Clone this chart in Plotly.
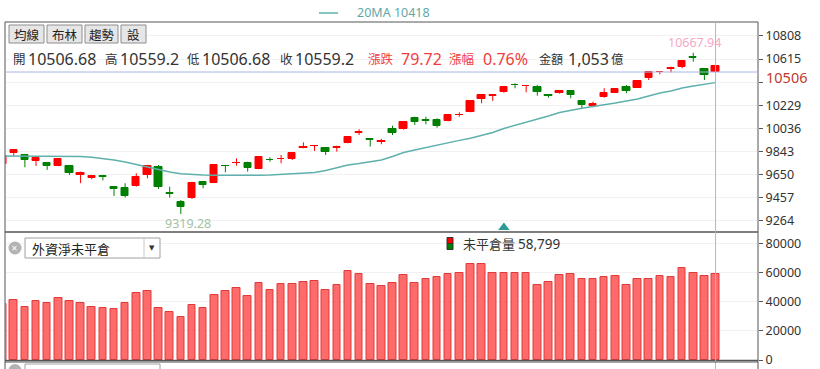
import plotly.graph_objects as go

# ---------------- data ----------------
opens = [9735, 9827, 9813, 9763, 9749, 9721, 9724, 9646, 9623, 9637,
         9548, 9540, 9554, 9646, 9716, 9493, 9423, 9451, 9585, 9582,
         9725, 9744, 9744, 9696, 9774, 9777, 9777, 9872, 9886, 9869,
         9872, 9916, 9997, 9947, 9922, 10030, 10028, 10120, 10103, 10104,
         10100, 10145, 10175, 10281, 10308, 10337, 10400, 10387, 10379, 10315,
         10329, 10348, 10265, 10223, 10296, 10334, 10384, 10376, 10454, 10504,
         10535, 10551, 10632, 10530, 10506.68]
highs = [9812, 9863, 9822, 9799, 9755, 9783, 9730, 9674, 9646, 9646,
         9554, 9577, 9660, 9730, 9730, 9548, 9437, 9588, 9590, 9738,
         9728, 9785, 9757, 9805, 9794, 9813, 9838, 9919, 9897, 9872,
         9891, 9972, 10028, 9949, 9947, 10058, 10097, 10133, 10133, 10120,
         10156, 10170, 10273, 10317, 10320, 10390, 10412, 10398, 10398, 10317,
         10351, 10351, 10273, 10259, 10371, 10368, 10398, 10434, 10507, 10515,
         10551, 10601, 10667.94, 10532, 10559.2]
lows = [9728, 9807, 9710, 9721, 9688, 9719, 9646, 9577, 9610, 9601,
        9470, 9457, 9548, 9618, 9529, 9457, 9319.28, 9445, 9535, 9579,
        9668, 9724, 9674, 9694, 9757, 9744, 9771, 9869, 9847, 9813,
        9841, 9911, 9980, 9883, 9903, 9980, 10025, 10064, 10070, 10041,
        10095, 10133, 10170, 10245, 10265, 10334, 10371, 10337, 10309, 10292,
        10326, 10287, 10198, 10214, 10292, 10331, 10329, 10373, 10440, 10488,
        10504, 10538, 10593, 10440, 10506.68]
closes = [9807, 9855, 9771, 9786, 9721, 9777, 9665, 9665, 9635, 9630,
          9532, 9470, 9632, 9721, 9548, 9487, 9381, 9582, 9562, 9730,
          9717, 9749, 9702, 9799, 9769, 9783, 9832, 9880, 9891, 9841,
          9880, 9966, 10002, 9941, 9928, 9994, 10092, 10092, 10098, 10058,
          10148, 10150, 10264, 10315, 10312, 10384, 10395, 10392, 10342, 10304,
          10348, 10315, 10231, 10240, 10334, 10365, 10351, 10432, 10504, 10509,
          10538, 10599, 10626, 10482, 10559.2]
ma20 = [9805, 9805, 9805, 9805, 9804, 9804, 9803, 9800, 9794, 9784,
        9771, 9755, 9734, 9713, 9692, 9671, 9657, 9650, 9646, 9643,
        9642, 9642, 9642, 9643, 9646, 9650, 9655, 9658, 9666, 9683,
        9704, 9730, 9742, 9755, 9771, 9800, 9834, 9855, 9876, 9897,
        9914, 9935, 9953, 9976, 10001, 10035, 10060, 10085, 10110, 10139,
        10168, 10189, 10204, 10219, 10231, 10248, 10265, 10281, 10306, 10331,
        10348, 10373, 10390, 10403, 10418]
open_interest = [38400, 41100, 36100, 40400, 39000, 42300, 40400, 39000, 36100, 35400,
                 35000, 39000, 45900, 47000, 35400, 32900, 29300, 37500, 35600, 44300,
                 47000, 49100, 43600, 52600, 47800, 52100, 52100, 53200, 53900, 47800,
                 51200, 60800, 58700, 52100, 50500, 52600, 58000, 52800, 55800, 56700,
                 58700, 59400, 65600, 65600, 59900, 59400, 59900, 59900, 51200, 53200,
                 58000, 58700, 55800, 55300, 56700, 57400, 51200, 55800, 55800, 57400,
                 56700, 63300, 59400, 57400, 58799]
price_ticks = [9264, 9457, 9650, 9843, 10036, 10229, 10422, 10615, 10808]
price_ticktext = ["9264", "9457", "9650", "9843", "10036", "10229", "", "10615", "10808"]
oi_ticks = [0, 20000, 40000, 60000, 80000]
oi_ticktext = ["0", "20000", "40000", "60000", "80000"]
event_idx = [45]
crosshair_price = 10506.68
buttons = ["均線", "布林", "趨勢", "設"]

W, H = 820, 369
def PX(x): return x / W
def PY(y): return 1 - y / H

n = len(opens)
idx = list(range(n))
RED, GREEN = "#ff0000", "#008000"
FONT = "Noto Sans, Noto Sans CJK TC, sans-serif"
CJK = "Noto Sans CJK TC, Noto Sans, sans-serif"

fig = go.Figure()

# wicks + bodies
for color, cond in ((RED, lambda i: closes[i] >= opens[i]), (GREEN, lambda i: closes[i] < opens[i])):
    xs, ys = [], []
    for i in idx:
        if cond(i):
            xs += [i, i, None]
            ys += [lows[i], highs[i], None]
    fig.add_trace(go.Scatter(x=xs, y=ys, mode="lines", line=dict(color=color, width=1),
                             hoverinfo="skip", showlegend=False, xaxis="x", yaxis="y"))
    bx = [i for i in idx if cond(i)]
    base = [min(opens[i], closes[i]) for i in bx]
    hgt = [max(abs(closes[i] - opens[i]), 6) for i in bx]
    fig.add_trace(go.Bar(x=bx, y=hgt, base=base, width=0.66,
                         marker=dict(color=color, line=dict(color=color, width=1)),
                         showlegend=False, xaxis="x", yaxis="y"))

# 20MA
fig.add_trace(go.Scatter(x=idx, y=ma20, mode="lines", line=dict(color="#5fb0ad", width=1.5),
                         showlegend=False, xaxis="x", yaxis="y"))

# event triangle
y_lo, y_hi = 9169, 10925
fig.add_trace(go.Scatter(x=event_idx, y=[y_lo + 0.022 * (y_hi - y_lo)] * len(event_idx),
                         mode="markers", marker=dict(symbol="triangle-up", size=10, color="#2e9a96"),
                         showlegend=False, xaxis="x", yaxis="y", cliponaxis=False))

# open interest bars
fig.add_trace(go.Bar(x=idx, y=open_interest, width=0.68,
                     marker=dict(color="#ff6a6a", line=dict(color="#e03a3a", width=1)),
                     showlegend=False, xaxis="x", yaxis="y2"))

x_left, x_right = 5.5, 758
pitch = 11.14
x0px = 2.6
xr = [(x_left - x0px) / pitch, (x_right - x0px) / pitch]

fig.update_layout(
    template="none",
    width=W, height=H, autosize=False,
    margin=dict(l=0, r=0, t=0, b=0, pad=0),
    paper_bgcolor="white", plot_bgcolor="white",
    barmode="overlay", bargap=0,
    font=dict(family=FONT, size=12, color="#333"),
    xaxis=dict(domain=[PX(x_left), PX(x_right)], range=xr, showgrid=False, zeroline=False,
               showticklabels=False, showline=False, ticks="", fixedrange=True, automargin=False),
    yaxis=dict(domain=[PY(232), PY(22)], range=[y_lo, y_hi], side="right", anchor="x",
               tickvals=price_ticks, ticktext=price_ticktext, ticks="outside", ticklen=4,
               tickcolor="#555", showline=False, showgrid=True, gridcolor="#f1f1f1", gridwidth=1,
               zeroline=False, automargin=False, tickfont=dict(size=12.5, color="#333", family=FONT)),
    yaxis2=dict(domain=[PY(360), PY(232)], range=[0, 87750], side="right", anchor="x",
                tickvals=oi_ticks, ticktext=oi_ticktext, ticks="outside", ticklen=4,
                tickcolor="#555", showline=False, showgrid=True, gridcolor="#f1f1f1", gridwidth=1,
                zeroline=False, automargin=False, tickfont=dict(size=12.5, color="#333", family=FONT)),
)

shapes = []
def line(x0, y0, x1, y1, color="#555", w=1, **kw):
    d = dict(type="line", xref="paper", yref="paper", x0=PX(x0), y0=PY(y0), x1=PX(x1), y1=PY(y1),
             line=dict(color=color, width=w))
    d.update(kw)
    shapes.append(d)
def rect(x0, y0, x1, y1, fill, lc="#999", w=1):
    shapes.append(dict(type="rect", xref="paper", yref="paper", x0=PX(x0), y0=PY(y0), x1=PX(x1), y1=PY(y1),
                       fillcolor=fill, line=dict(color=lc, width=w)))

# frame
line(5, 22, 758, 22)
line(5, 22, 5, 369)
line(758, 22, 758, 369)
line(5, 232, 758, 232, w=1.5)
line(5, 360.5, 758, 360.5, w=1.5)
# crosshair
shapes.append(dict(type="line", xref="x", yref="paper", x0=n - 1, x1=n - 1, y0=PY(22), y1=0,
                   line=dict(color="#a9b6e2", width=1)))
shapes.append(dict(type="line", xref="paper", yref="y", x0=PX(5), x1=PX(758), y0=crosshair_price,
                   y1=crosshair_price, line=dict(color="#a9b6e2", width=1)))
# legend line
line(319, 13, 338, 13, color="#5fb0ad", w=1.5)

annotations = []
def text(x, y, s, size=13, color="#333", xanchor="left", family=CJK, **kw):
    d = dict(xref="paper", yref="paper", x=PX(x), y=PY(y), text=s, showarrow=False,
             xanchor=xanchor, yanchor="middle", font=dict(size=size, color=color, family=family))
    d.update(kw)
    annotations.append(d)

# buttons
bxs = [(9, 44), (47, 82), (85, 118), (121, 146)]
for (a, b), lab in zip(bxs, buttons):
    rect(a, 25, b, 43, "#e6e6e6", lc="#8e8e8e")
    text((a + b) / 2, 34.5, lab, size=12.5, color="#222", xanchor="center")

# legend text
text(355, 13, "20MA 10418", size=12.5, color="#5fa8a8", family=FONT)

# info line
tokens = [("開", 11, "#333", CJK, 12.5), ("10506.68", 26, "#333", FONT, 16),
          ("高", 103, "#333", CJK, 12.5), ("10559.2", 118, "#333", FONT, 16),
          ("低", 185, "#333", CJK, 12.5), ("10506.68", 200, "#333", FONT, 16),
          ("收", 278, "#333", CJK, 12.5), ("10559.2", 293, "#333", FONT, 16),
          ("漲跌", 366, "#f03c3c", CJK, 12.5), ("79.72", 399, "#f03c3c", FONT, 16),
          ("漲幅", 447, "#f03c3c", CJK, 12.5), ("0.76%", 481, "#f03c3c", FONT, 16),
          ("金額", 537, "#333", CJK, 12), ("1,053", 566, "#333", FONT, 16), ("億", 609, "#333", CJK, 12.5)]
for s, x, c, fam, sz in tokens:
    text(x, 59, s, size=sz, color=c, family=fam)

# min / max labels
imin = lows.index(min(lows))
imax = highs.index(max(highs))
annotations.append(dict(xref="x", yref="y", x=imin, y=lows[imin], text=f"{lows[imin]:.2f}", showarrow=False,
                        xanchor="center", yanchor="top", xshift=7, yshift=1,
                        font=dict(size=12.5, color="#a3c2a3", family=FONT)))
annotations.append(dict(xref="x", yref="y", x=imax, y=highs[imax], text=f"{highs[imax]:.2f}", showarrow=False,
                        xanchor="center", yanchor="bottom", xshift=1, yshift=0,
                        font=dict(size=12.5, color="#f5a8c8", family=FONT)))
# crosshair price label
annotations.append(dict(xref="paper", yref="y", x=PX(765), y=crosshair_price, text=f"{int(crosshair_price)}",
                        showarrow=False, xanchor="left", yanchor="middle", yshift=-4.5, borderpad=0,
                        font=dict(size=14.5, color="#c0392b", family=FONT)))

# lower panel selector
shapes.append(dict(type="circle", xref="paper", yref="paper", x0=PX(8.5), x1=PX(21.5), y0=PY(254.5), y1=PY(241.5),
                   fillcolor="#b3b3b3", line=dict(width=0)))
text(15, 248, "✕", size=8, color="white", xanchor="center", family="DejaVu Sans")
rect(25, 238, 160, 258, "white", lc="#a0a0a0")
line(144, 238, 144, 258, color="#c8c8c8")
text(152, 248, "▼", size=7, color="#333", xanchor="center", family="DejaVu Sans")
text(30, 248, "外資淨未平倉", size=13, color="#222")
# legend icon
rect(447, 237.5, 453, 243.5, "#ff0000", lc="#333")
rect(447, 243.5, 453, 249.5, "#008000", lc="#333")
text(461, 243.5, "未平倉量", size=13, color="#333")
text(516, 243.5, "58,799", size=13.5, color="#333", family=FONT)

# third panel peeking at bottom
rect(25, 364, 160, 384, "white", lc="#a0a0a0")
shapes.append(dict(type="circle", xref="paper", yref="paper", x0=PX(8.5), x1=PX(21.5), y0=PY(377), y1=PY(364),
                   fillcolor="#b3b3b3", line=dict(width=0)))
line(5, 362, 758, 362, color="#555")

fig.update_layout(shapes=shapes, annotations=annotations)
fig.write_html("out.html",
               config={"displayModeBar": False, "responsive": False},
               post_script="document.body.style.margin='0';document.body.style.overflow='hidden';")
